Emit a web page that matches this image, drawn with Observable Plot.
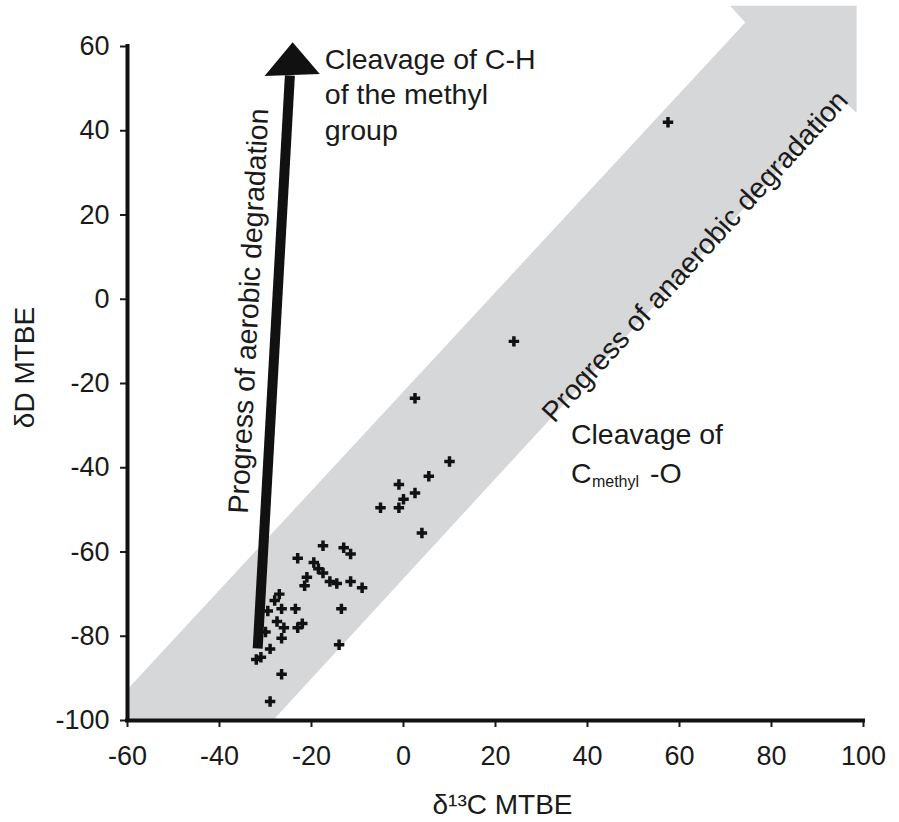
<!DOCTYPE html>
<html>
<head>
<meta charset="utf-8">
<script src="https://cdn.jsdelivr.net/npm/d3@7"></script>
<script src="https://cdn.jsdelivr.net/npm/@observablehq/plot@0.6"></script>
<style>
  body { margin: 0; background: #fff; }
  #chart svg { display: block; }
</style>
</head>
<body>
<div id="chart"></div>
<script>
// Measured samples: δ13C (x) and δD (y) of MTBE
const d13C = [57.5, 24, 2.5, 10, 5.5, -1, 2.5, 0, -1, -5, 4,
  -17.5, -13, -11.5, -23, -19.5, -18.5, -17.5, -21, -21.5, -16, -14.5, -11.5, -9,
  -27, -28, -13.5, -26.5, -23.5, -29.5, -27.5, -22, -26, -23, -30, -26.5, -14,
  -29, -31, -32, -26.5, -29];
const dD = [42, -10, -23.5, -38.5, -42, -44, -46, -47.5, -49.5, -49.5, -55.5,
  -58.5, -59, -60.5, -61.5, -62.5, -64, -65, -66, -68, -67, -67.5, -67, -68.5,
  -70, -71.5, -73.5, -73.5, -73.5, -74, -76.5, -77, -78, -78, -79, -80.5, -82,
  -83, -85, -85.5, -89, -95.5];

const xTicks = [-60, -40, -20, 0, 20, 40, 60, 80, 100];
const yTicks = [-100, -80, -60, -40, -20, 0, 20, 40, 60];

// Grey "anaerobic" band arrow outline (data units)
const bandX = [-60, 74.3, 71, 98.5, 98.5, 95.6, -28.4, -60];
const bandY = [-92.6, 65.7, 69.7, 69.7, 44.3, 47.2, -100, -100];

// Black "aerobic" arrow: shaft and head (data units)
const shaftX = [-31.7, -24.7];
const shaftY = [-82.9, 53.1];
const headX = [-30.2, -24.1, -18.2];
const headY = [53.0, 61.0, 53.5];

const points = d13C.map((x, i) => ({x, y: dD[i]}));
const band = bandX.map((x, i) => ({x, y: bandY[i]}));
const shaft = shaftX.map((x, i) => ({x, y: shaftY[i]}));
const head = headX.map((x, i) => ({x, y: headY[i]}));

const FONT = "'Liberation Sans', Arial, Helvetica, sans-serif";
const INK = "#1a1a1a";

const chart = Plot.plot({
  width: 899,
  height: 822,
  marginLeft: 127,
  marginRight: 36,
  marginTop: 46,
  marginBottom: 102,
  style: {fontFamily: FONT, fontSize: "27px", color: INK, background: "#fff", overflow: "visible"},
  x: {domain: [-60, 100]},
  y: {domain: [-100, 60]},
  marks: [
    Plot.line(band, {x: "x", y: "y", fill: "#d6d7d8", stroke: "none", curve: "linear-closed"}),
    Plot.text(["Progress of anaerobic degradation"], {
      x: 63.4, y: 10.1, rotate: -47.5, fontSize: 28.5, fill: INK,
      textAnchor: "middle", lineAnchor: "middle"
    }),
    Plot.dot(points, {x: "x", y: "y", symbol: "cross", r: 4.4, fill: "#111", stroke: "none"}),
    Plot.line(shaft, {x: "x", y: "y", stroke: "#111", strokeWidth: 10, strokeLinecap: "butt"}),
    Plot.line(head, {x: "x", y: "y", fill: "#111", stroke: "none", curve: "linear-closed"}),
    Plot.text(["Progress of aerobic degradation"], {
      x: -33.6, y: -2.8, rotate: -87.1, fontSize: 28.5, fill: INK,
      textAnchor: "middle", lineAnchor: "middle"
    }),
    Plot.text(["Cleavage of C-H\nof the methyl\ngroup"], {
      x: -17.1, y: 60.7, fontSize: 28.5, fill: INK, lineHeight: 1.25,
      textAnchor: "start", lineAnchor: "top"
    }),
    Plot.text(["Cleavage of"], {
      x: 36.4, y: -29.6, fontSize: 28.5, fill: INK, textAnchor: "start", lineAnchor: "top"
    }),
    Plot.text(["C"], {
      x: 36.4, y: -38.9, fontSize: 28.5, fill: INK, textAnchor: "start", lineAnchor: "top"
    }),
    Plot.text(["methyl"], {
      x: 36.4, y: -38.9, dx: 21, dy: 13, fontSize: 16, fill: INK, textAnchor: "start", lineAnchor: "top"
    }),
    Plot.text(["-O"], {
      x: 36.4, y: -38.9, dx: 79, fontSize: 28.5, fill: INK, textAnchor: "start", lineAnchor: "top"
    }),
    Plot.axisX(xTicks, {tickSize: 7, tickPadding: 18, strokeWidth: 2, label: null,
      tickFormat: d => String(d), fontSize: 27, fill: INK}),
    Plot.axisY(yTicks, {tickSize: 7, tickPadding: 11, strokeWidth: 2, label: null,
      tickFormat: d => String(d), fontSize: 27, fill: INK}),
    Plot.ruleX([-60], {stroke: "#111", strokeWidth: 4, strokeLinecap: "square"}),
    Plot.ruleY([-100], {stroke: "#111", strokeWidth: 4, strokeLinecap: "square"}),
    Plot.text(["δD MTBE"], {
      frameAnchor: "left", dx: -102, dy: -16, rotate: -90, fontSize: 28, fill: INK,
      textAnchor: "middle", lineAnchor: "middle"
    }),
    Plot.text(["δ¹³C MTBE"], {
      frameAnchor: "bottom", dx: 7, dy: 85, fontSize: 28, fill: INK,
      textAnchor: "middle", lineAnchor: "middle"
    })
  ]
});

document.getElementById("chart").appendChild(chart);
</script>
</body>
</html>
